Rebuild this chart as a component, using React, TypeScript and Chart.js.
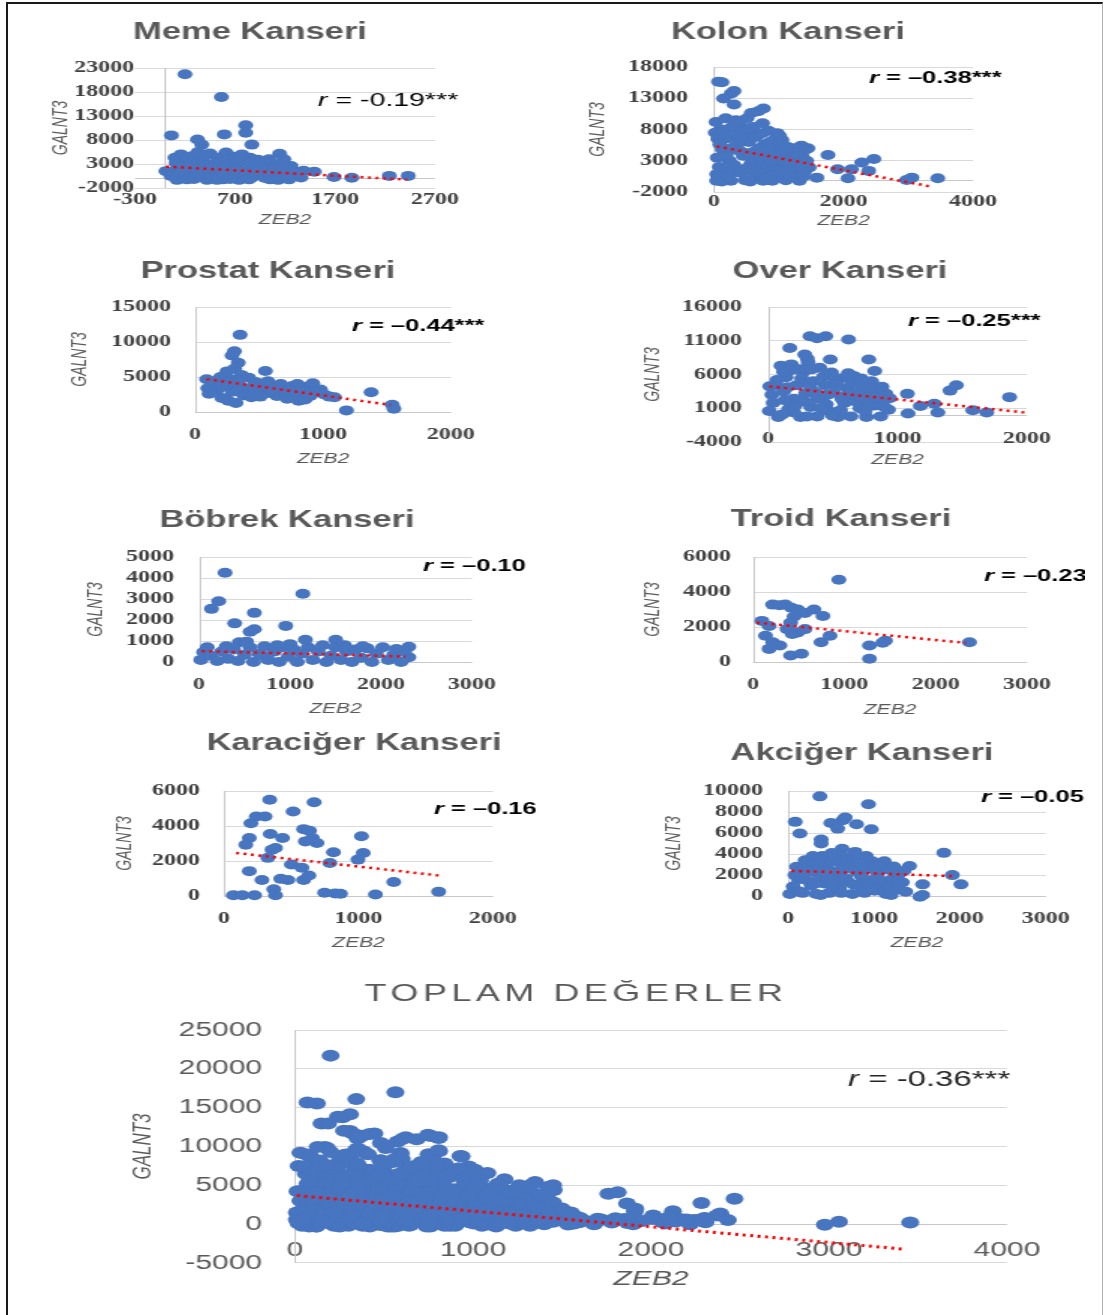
import React, { useEffect, useRef } from 'react';
import { Chart, registerables } from 'chart.js';

Chart.register(...registerables);
Chart.defaults.font.family = "'Liberation Sans', Arial, sans-serif";

type Pt = [number, number];

// ===================== DATA =====================
// Meme Kanseri
const memeXTicks = [-300, 700, 1700, 2700];
const memeYTicks = [-2000, 3000, 8000, 13000, 18000, 23000];
const memeR = '-0.19***';
const memeTrend: Pt[] = [[10, 2450], [2420, -250]];
const memePoints: Pt[] = [
  [200, 21700], [564, 16970], [64, 8960], [593, 9170], [807, 11090], [807, 9520], [868, 7040], [325, 8100],
  [368, 7040], [1146, 5130], [1189, 3990], [1386, 1580], [1493, 1370], [1690, 300], [1868, 150], [2243, 520],
  [2432, 520], [10, 1510],
  [100, 4300], [130, 2200], [150, 600], [160, 5000], [200, 3300], [220, -200], [250, 1500], [270, 4600],
  [300, 2600], [330, 5500], [340, 500], [380, 3800], [400, 1800], [420, -300], [450, 5200], [470, 2900],
  [500, 900], [530, 4300], [560, 2000], [580, -200], [610, 5400], [630, 3400], [660, 1200], [690, 4500],
  [720, 2500], [740, -300], [770, 5000], [790, 3600], [820, 1500], [850, 4300], [870, 200], [900, 2700],
  [930, 3900], [960, 800], [990, 3300], [1020, 2000], [1050, -200], [1080, 3000], [1110, 1200], [1150, 2400],
  [1180, 300], [1220, 1600], [1260, 2600], [1290, 600], [1320, 1300], [1360, 200], [120, -300], [180, 1200],
  [290, -100], [360, 2800], [440, 1000], [520, -300], [600, 1000], [650, -100], [700, 3100], [760, 1200],
  [840, -200], [880, 1400], [1000, 100], [1130, -300], [1240, -200], [60, 500],
  [110, 3200], [230, 4000], [320, 1000], [400, 4800], [480, 2200], [550, 3400], [620, 2600], [700, 1800],
  [780, 4200], [860, 3000], [950, 1800], [1040, 4000], [1100, 2300], [1180, 3500], [260, 3000],
];

// Kolon Kanseri
const kolonXTicks = [0, 2000, 4000];
const kolonYTicks = [-2000, 3000, 8000, 13000, 18000];
const kolonR = '–0.38***';
const kolonTrend: Pt[] = [[40, 5300], [3360, -1150]];
const kolonPoints: Pt[] = [
  [70, 15660], [123, 15550], [267, 13780], [309, 14150], [149, 12970], [309, 12000], [763, 11350], [683, 10920],
  [576, 10650], [976, 7420], [1349, 5420], [1760, 3920], [1472, 1920], [1589, 300], [1909, 1650], [2123, 1650],
  [2069, 200], [2283, 2730], [2469, 3270], [2389, 1380], [3056, 300], [2976, -70], [3456, 200], [43, 860],
  [30, 9200], [60, 6500], [50, 3500], [40, -200], [100, 8000], [130, 4800], [150, 1500], [180, 9800],
  [210, 6600], [240, 3000], [260, -200], [300, 8600], [330, 5300], [360, 1200], [390, 9300], [420, 7000],
  [450, 3800], [480, -100], [510, 9800], [540, 6000], [570, 2500], [600, 8400], [630, 4500], [660, 500],
  [690, 7200], [720, 3200], [750, 9000], [780, 5600], [810, 1500], [840, 7800], [870, 4000], [900, -200],
  [930, 6400], [960, 2600], [990, 5000], [1020, 800], [1050, 6300], [1080, 3400], [1110, -100], [1140, 5200],
  [1170, 1800], [1200, 4300], [1230, 600], [1260, 5000], [1290, 2600], [1320, -200], [1360, 3800], [1400, 1300],
  [1420, 4800], [120, -300], [200, 4300], [280, 1500], [380, 5800], [500, 1800], [560, -300], [620, 7000],
  [700, 5000], [760, -200], [900, 2000], [1000, 3300], [1150, 3500], [1300, 1000], [480, 8200], [250, 8200],
  [80, 2000],
  [20, 7500], [90, 5600], [70, 300], [160, 7000], [190, 3600], [220, 500], [270, 5000], [310, 2300],
  [340, 9500], [370, 7200], [410, 4500], [440, 1000], [470, 6600], [520, 4200], [550, 8000], [590, 3200],
  [620, 1200], [650, 6800], [680, 3900], [710, 1800], [740, 7400], [770, 2600], [800, 4800], [830, 300],
  [860, 6000], [890, 3000], [940, 4400], [970, 1000], [1010, 7000], [1040, 1800], [1070, 4600], [1130, 2600],
  [1190, 600], [1240, 3500], [1280, 4200], [1330, 2000], [1380, 500], [1430, 3000], [1450, 5000],
];

// Prostat Kanseri
const prostatXTicks = [0, 1000, 2000];
const prostatYTicks = [0, 5000, 10000, 15000];
const prostatR = '–0.44***';
const prostatTrend: Pt[] = [[90, 4700], [1530, 1000]];
const prostatPoints: Pt[] = [
  [352, 11020], [308, 8670], [289, 8060], [338, 7030], [550, 5860], [91, 4690], [1183, 230], [1376, 2810],
  [1541, 1030], [1554, 470],
  [100, 3400], [110, 2600], [150, 4400], [170, 3100], [200, 5000], [210, 2000], [230, 3800], [250, 5800],
  [260, 1600], [280, 4600], [290, 2900], [310, 6200], [320, 1300], [340, 4000], [360, 5300], [380, 2400],
  [400, 3300], [420, 4900], [440, 2100], [470, 4300], [490, 3000], [510, 2200], [540, 3800], [570, 4400],
  [590, 2700], [620, 3400], [640, 2300], [670, 4000], [700, 2900], [720, 1900], [760, 3700], [780, 2400],
  [800, 4000], [810, 1600], [840, 3100], [860, 1800], [880, 3600], [920, 4100], [940, 2800], [980, 3200],
  [1010, 2500], [1050, 2200], [1090, 2100], [200, 3500], [320, 3400], [450, 3600], [600, 3000], [750, 3100],
  [900, 2300], [260, 4200],
];

// Over Kanseri
const overXTicks = [0, 1000, 2000];
const overYTicks = [-4000, 1000, 6000, 11000, 16000];
const overR = '–0.25***';
const overTrend: Pt[] = [[10, 4250], [2000, 350]];
const overPoints: Pt[] = [
  [324, 11680], [378, 11390], [446, 11680], [622, 11190], [168, 9930], [284, 8960], [303, 8380], [481, 8230],
  [778, 8230], [824, 6530], [14, 4250], [1076, 3140], [1081, 220], [1176, 1340], [1284, 1680], [1311, 370],
  [1405, 3620], [1454, 4400], [1581, 710], [1689, 370], [1865, 2650],
  [10, 600], [40, 1800], [80, -300], [100, 7300], [120, 3500], [140, 5600], [160, 900], [180, 7500],
  [200, 2400], [220, 4400], [250, -300], [270, 6300], [290, 3200], [310, 7800], [330, 1200], [350, 5000],
  [380, -200], [400, 7000], [420, 2600], [440, 4400], [470, 600], [490, 6300], [510, 3300], [540, -300],
  [560, 5400], [590, 1800], [610, 4000], [640, -200], [660, 5800], [680, 2800], [710, 1000], [730, 4400],
  [760, -300], [780, 3000], [800, 5000], [820, 1400], [850, 3600], [870, -200], [890, 2200], [910, 3200],
  [930, 800], [60, 4400], [130, 2200], [240, 6800], [330, 3900], [450, 1600], [520, 5000], [600, 2800],
  [700, 3500], [760, 2000], [200, 400], [560, 700], [380, 2400], [650, 4800],
  [30, 3000], [70, 5200], [110, 100], [150, 4100], [170, 6600], [210, 1400], [260, 5400], [280, 2000],
  [320, 4600], [340, 6800], [370, 3300], [410, 1000], [430, 5700], [460, 3000], [500, -100], [530, 4400],
  [570, 2400], [620, 6200], [640, 3400], [690, 1900], [720, 5400], [750, 600], [790, 4000], [840, 2600],
  [880, 4200], [900, 1200], [940, 2500], [300, -200], [120, 6400],
];

// Böbrek Kanseri
const bobrekXTicks = [0, 1000, 2000, 3000];
const bobrekYTicks = [0, 1000, 2000, 3000, 4000, 5000];
const bobrekR = '–0.10';
const bobrekTrend: Pt[] = [[30, 520], [2270, 260]];
const bobrekPoints: Pt[] = [
  [286, 4250], [1141, 3250], [216, 2890], [137, 2530], [608, 2340], [392, 1840], [953, 1720], [608, 1560],
  [561, 1440], [443, 940], [522, 970], [1169, 1060], [1502, 1060], [2306, 730], [2169, 620], [2306, 230],
  [90, 700], [51, 470],
  [20, 100], [130, 300], [200, 50], [250, 500], [320, 150], [380, 600], [430, 50], [500, 350],
  [560, 700], [600, 0], [660, 400], [720, 750], [760, 100], [830, 500], [880, 0], [930, 700],
  [980, 250], [1040, 600], [1080, 0], [1130, 400], [1200, 700], [1250, 100], [1310, 500], [1360, 800],
  [1400, 0], [1450, 300], [1500, 700], [1560, 100], [1620, 500], [1680, 0], [1720, 600], [1780, 200],
  [1850, 650], [1900, 0], [1950, 400], [2020, 700], [2080, 100], [2140, 350], [2220, 0], [2260, 500],
  [1000, 850], [700, 300], [1600, 800], [1800, 750], [300, 750], [860, 800],
];

// Troid Kanseri
const troidXTicks = [0, 1000, 2000, 3000];
const troidYTicks = [0, 2000, 4000, 6000];
const troidR = '–0.23';
const troidTrend: Pt[] = [[40, 2250], [2330, 1090]];
const troidPoints: Pt[] = [
  [940, 4700], [215, 3280], [290, 3250], [353, 3280], [420, 3100], [490, 3000], [569, 2800], [667, 3000],
  [765, 2630], [450, 2600], [98, 2350], [176, 2060], [137, 1500], [216, 1130], [294, 940], [176, 750],
  [373, 1880], [412, 2250], [490, 1690], [569, 1880], [430, 1600], [843, 1500], [745, 1130], [412, 375],
  [530, 470], [1275, 940], [1275, 190], [1450, 1220], [1420, 1100], [2370, 1130],
];

// Karaciğer Kanseri
const karacigerXTicks = [0, 1000, 2000];
const karacigerYTicks = [0, 2000, 4000, 6000];
const karacigerR = '–0.16';
const karacigerTrend: Pt[] = [[90, 2460], [1600, 1170]];
const karacigerPoints: Pt[] = [
  [340, 5500], [670, 5360], [514, 4830], [240, 4540], [305, 4540], [200, 4160], [592, 3820], [636, 3730],
  [1022, 3410], [344, 3540], [435, 3310], [188, 3310], [162, 2930], [657, 3310], [691, 3030], [605, 3120],
  [383, 2740], [357, 2650], [814, 2500], [1035, 2460], [996, 2080], [326, 2180], [501, 1800], [579, 1610],
  [787, 1890], [188, 1420], [282, 910], [422, 980], [475, 910], [592, 910], [631, 1170], [1262, 800],
  [1596, 250], [70, 40], [136, 40], [227, 40], [370, 380], [383, 40], [748, 190], [827, 150],
  [866, 130], [1126, 90],
];

// Akciğer Kanseri
const akcigerXTicks = [0, 1000, 2000, 3000];
const akcigerYTicks = [0, 2000, 4000, 6000, 8000, 10000];
const akcigerR = '–0.05';
const akcigerTrend: Pt[] = [[40, 2400], [1930, 1900]];
const akcigerPoints: Pt[] = [
  [371, 9490], [936, 8730], [84, 7060], [139, 5950], [498, 6960], [637, 7220], [665, 7470], [578, 6420],
  [797, 6840], [968, 6360], [386, 5380], [386, 5000], [1813, 4110], [1414, 2850], [1912, 1990], [2012, 1110],
  [1566, 1110], [1566, 95], [1534, -60], [20, 190], [100, 2780],
  [60, 900], [120, 1600], [170, 300], [200, 3400], [230, 2300], [270, 1000], [300, 3000], [330, 200],
  [360, 2000], [400, 3800], [420, 1200], [450, 2800], [480, 300], [510, 4100], [540, 1900], [570, 3300],
  [600, 700], [630, 4500], [660, 2600], [690, 1400], [720, 3700], [750, 200], [780, 4200], [800, 2300],
  [830, 1100], [860, 3400], [890, 300], [920, 2600], [950, 1500], [980, 3300], [1010, 500], [1040, 2200],
  [1080, 3000], [1110, 1200], [1140, 200], [1170, 2500], [1210, 1600], [1250, 600], [1290, 2100], [1330, 1300],
  [1370, 400], [250, 2600], [380, 100], [560, 1200], [700, 2900], [870, 500], [1000, 1000], [1200, 100],
  [460, 3500], [650, 3700],
  [80, 2000], [140, 400], [180, 2600], [220, 1500], [290, 3800], [320, 1200], [350, 3100], [390, 2500],
  [440, 1800], [500, 1200], [530, 3700], [590, 2400], [620, 300], [670, 1700], [730, 2700], [760, 1100],
  [820, 3200], [850, 1900], [910, 3800], [940, 700], [1020, 2800], [1060, 1600], [1120, 3300], [1160, 800],
  [1230, 2800], [1280, 1100], [1350, 2400],
];

// TOPLAM DEĞERLER: pooled values of all eight cancer types, plus marks
const toplamXTicks = [0, 1000, 2000, 3000, 4000];
const toplamYTicks = [-5000, 0, 5000, 10000, 15000, 20000, 25000];
const toplamR = '-0.36***';
const toplamTrend: Pt[] = [[10, 3680], [3415, -3200]];
const toplamOnlyPoints: Pt[] = [
  [344, 16100], [241, 13840], [186, 12960], [275, 12040], [351, 11410], [420, 11620], [482, 10450], [606, 11000],
  [747, 11500], [809, 11200], [809, 9400], [929, 8780], [592, 9030], [351, 9740], [127, 9950], [86, 8780],
  [489, 8150], [781, 8150], [1081, 6600], [1177, 5770], [1332, 5140], [1435, 4300],
  [60, 7500], [100, 6600], [140, 8200], [170, 5400], [200, 9300], [230, 7000], [260, 4800], [290, 8600],
  [320, 6200], [350, 7800], [380, 5300], [410, 9000], [440, 6800], [470, 4500], [500, 7600], [530, 5800],
  [560, 8400], [590, 6500], [620, 4800], [650, 7300], [680, 5600], [710, 8000], [740, 6200], [770, 4700],
  [800, 7000], [830, 5300], [860, 6400], [890, 4500], [920, 7200], [950, 5600], [980, 6300], [1010, 4700],
  [1040, 5600], [1100, 4400], [1150, 5000], [1200, 3700], [1250, 4400], [1300, 3300], [1380, 3800], [1450, 2800],
  [1500, 2000], [1550, 1500], [1600, 800], [1700, 700], [1800, 500], [1900, 900], [2000, 700], [2100, 900],
  [2200, 600], [2300, 800], [80, 5500], [180, 7600], [270, 6000], [360, 4400], [460, 6100], [570, 5000],
  [660, 4200], [760, 5500], [870, 3800], [970, 3600], [1070, 3400], [1160, 2900], [1260, 2600], [1350, 2200],
  [1420, 1400], [120, 4000], [300, 3800], [500, 3300], [700, 3200], [900, 2900],
];
const toplamPoints: Pt[] = [
  ...memePoints, ...kolonPoints, ...prostatPoints, ...overPoints,
  ...bobrekPoints, ...troidPoints, ...karacigerPoints, ...akcigerPoints, ...toplamOnlyPoints,
];

// ===================== LAYOUT / STYLE =====================
const STRETCH = 1.5;
const BLUE = '#4775C0';

interface PanelStyle {
  titleSize: number; titleWeight: string; titleSpacing: number;
  tickFamily: string; tickSize: number; tickWeight: string; tickColor: string;
  yTitleSize: number; xTitleSize: number;
  rColor: string;
  pointRadius: number; trendWidth: number;
}
const SMALL: PanelStyle = {
  titleSize: 23, titleWeight: 'bold', titleSpacing: 0,
  tickFamily: "'Liberation Serif', serif", tickSize: 16, tickWeight: 'bold', tickColor: '#404040',
  yTitleSize: 14, xTitleSize: 14,
  rColor: '#000000',
  pointRadius: 5, trendWidth: 2.5,
};
const BIG: PanelStyle = {
  titleSize: 24, titleWeight: 'normal', titleSpacing: 3,
  tickFamily: "'Liberation Sans', Arial, sans-serif", tickSize: 20, tickWeight: 'normal', tickColor: '#595959',
  yTitleSize: 17, xTitleSize: 20,
  rColor: '#262626',
  pointRadius: 6, trendWidth: 3,
};

interface PanelLayout {
  plot: [number, number, number, number];
  titleAt: [number, number];
  rAt: [number, number];
  yTitleX: number; xTitleY: number;
  yLabelRight: number; xLabelY: number;
  right: number;
}

interface Panel {
  title: string; r: string; rBold: boolean; rSize: number;
  points: Pt[]; trend: Pt[]; xTicks: number[]; yTicks: number[];
  layout: PanelLayout; style: PanelStyle;
}

const panels: Panel[] = [
  {
    title: 'Meme Kanseri', r: memeR, rBold: false, rSize: 19, points: memePoints, trend: memeTrend,
    xTicks: memeXTicks, yTicks: memeYTicks, style: SMALL,
    layout: { plot: [135, 68, 435, 188], titleAt: [250, 33], rAt: [318, 101], yTitleX: 62, xTitleY: 221, yLabelRight: 134, xLabelY: 200, right: 472 },
  },
  {
    title: 'Kolon Kanseri', r: kolonR, rBold: true, rSize: 17, points: kolonPoints, trend: kolonTrend,
    xTicks: kolonXTicks, yTicks: kolonYTicks, style: SMALL,
    layout: { plot: [714, 67, 973, 192], titleAt: [788, 33], rAt: [869, 78], yTitleX: 599, xTitleY: 222, yLabelRight: 688, xLabelY: 202, right: 1012 },
  },
  {
    title: 'Prostat Kanseri', r: prostatR, rBold: true, rSize: 17, points: prostatPoints, trend: prostatTrend,
    xTicks: prostatXTicks, yTicks: prostatYTicks, style: SMALL,
    layout: { plot: [195, 307, 455, 412], titleAt: [268, 272], rAt: [352, 326], yTitleX: 81, xTitleY: 460, yLabelRight: 171, xLabelY: 435, right: 495 },
  },
  {
    title: 'Over Kanseri', r: overR, rBold: true, rSize: 17, points: overPoints, trend: overTrend,
    xTicks: overXTicks, yTicks: overYTicks, style: SMALL,
    layout: { plot: [768, 307, 1027, 443], titleAt: [840, 272], rAt: [908, 321], yTitleX: 654, xTitleY: 461, yLabelRight: 742, xLabelY: 440, right: 1058 },
  },
  {
    title: 'Böbrek Kanseri', r: bobrekR, rBold: true, rSize: 17, points: bobrekPoints, trend: bobrekTrend,
    xTicks: bobrekXTicks, yTicks: bobrekYTicks, style: SMALL,
    layout: { plot: [199, 557, 472, 662], titleAt: [287, 521], rAt: [423, 566], yTitleX: 97, xTitleY: 710, yLabelRight: 174, xLabelY: 685, right: 527 },
  },
  {
    title: 'Troid Kanseri', r: troidR, rBold: true, rSize: 17, points: troidPoints, trend: troidTrend,
    xTicks: troidXTicks, yTicks: troidYTicks, style: SMALL,
    layout: { plot: [753, 557, 1027, 662], titleAt: [841, 520], rAt: [984, 576], yTitleX: 654, xTitleY: 711, yLabelRight: 731, xLabelY: 685, right: 1085 },
  },
  {
    title: 'Karaciğer Kanseri', r: karacigerR, rBold: true, rSize: 17, points: karacigerPoints, trend: karacigerTrend,
    xTicks: karacigerXTicks, yTicks: karacigerYTicks, style: SMALL,
    layout: { plot: [224, 791, 498, 896], titleAt: [354, 744], rAt: [434, 809], yTitleX: 126, xTitleY: 944, yLabelRight: 200, xLabelY: 919, right: 537 },
  },
  {
    title: 'Akciğer Kanseri', r: akcigerR, rBold: true, rSize: 17, points: akcigerPoints, trend: akcigerTrend,
    xTicks: akcigerXTicks, yTicks: akcigerYTicks, style: SMALL,
    layout: { plot: [788, 791, 1049, 896], titleAt: [862, 754], rAt: [981, 797], yTitleX: 675, xTitleY: 944, yLabelRight: 763, xLabelY: 919, right: 1090 },
  },
  {
    title: 'TOPLAM DEĞERLER', r: toplamR, rBold: false, rSize: 22, points: toplamPoints, trend: toplamTrend,
    xTicks: toplamXTicks, yTicks: toplamYTicks, style: BIG,
    layout: { plot: [295, 1030, 1007, 1269], titleAt: [576, 994], rAt: [848, 1080], yTitleX: 143, xTitleY: 1285, yLabelRight: 262, xLabelY: 1256, right: 1050 },
  },
];

// ===================== COMPONENTS =====================
function ScatterPanel({ panel }: { panel: Panel }) {
  const ref = useRef<HTMLCanvasElement>(null);
  const lay = panel.layout;
  const st = panel.style;
  const [PL, PT, PR, PB] = lay.plot;
  const yTitleLh = st.yTitleSize * 1.2;
  const xTitleLh = st.xTitleSize * 1.2;
  const L = Math.round(lay.yTitleX - (yTitleLh / 2) * STRETCH);
  const T = lay.titleAt[1] - 24;
  const B = Math.round(lay.xTitleY + xTitleLh / 2);
  const R = lay.right;
  const Wp = R - L;
  const Wi = Math.round(Wp / STRETCH);
  const s = Wp / Wi;
  const H = B - T;

  useEffect(() => {
    const canvas = ref.current;
    if (!canvas) return;
    const xi = (X: number) => (X - L) / s;
    const tickLh = st.tickSize * 1.2;
    const fam = "'Liberation Sans', Arial, sans-serif";

    const decor = {
      id: 'decor',
      beforeDatasetsDraw(chart: any) {
        const { ctx, chartArea: a, scales } = chart;
        ctx.save();
        ctx.strokeStyle = '#c8c8c8';
        ctx.lineWidth = 1;
        const px = Math.round(scales.x.getPixelForValue(0)) + 0.5;
        ctx.beginPath(); ctx.moveTo(px, a.top); ctx.lineTo(px, a.bottom); ctx.stroke();
        const py = Math.round(scales.y.getPixelForValue(0)) + 0.5;
        ctx.beginPath(); ctx.moveTo(a.left, py); ctx.lineTo(a.right, py); ctx.stroke();
        ctx.restore();
      },
      afterDraw(chart: any) {
        const ctx = chart.ctx as CanvasRenderingContext2D;
        ctx.save();
        (ctx as any).letterSpacing = `${st.titleSpacing}px`;
        ctx.font = `${st.titleWeight} ${st.titleSize}px ${fam}`;
        ctx.fillStyle = '#595959';
        ctx.textAlign = 'center';
        ctx.textBaseline = 'middle';
        ctx.fillText(panel.title, xi(lay.titleAt[0]), lay.titleAt[1] - T);
        (ctx as any).letterSpacing = '0px';
        const w = panel.rBold ? 'bold' : 'normal';
        ctx.textAlign = 'left';
        ctx.fillStyle = st.rColor;
        const x0 = xi(lay.rAt[0]);
        const y0 = lay.rAt[1] - T;
        ctx.font = `italic ${w} ${panel.rSize}px ${fam}`;
        ctx.fillText('r', x0, y0);
        const rw = ctx.measureText('r').width;
        ctx.font = `${w} ${panel.rSize}px ${fam}`;
        ctx.fillText(' = ' + panel.r, x0 + rw, y0);
        ctx.restore();
      },
    };

    const tickFont = { family: st.tickFamily, size: st.tickSize, weight: st.tickWeight as any };
    const noLabelClip = (sc: any) => { sc._computeLabelArea = () => undefined; };

    const chart = new Chart(canvas, {
      type: 'scatter',
      data: {
        datasets: [
          {
            data: panel.trend.map(([x, y]) => ({ x, y })),
            showLine: true,
            borderColor: '#ff0000',
            backgroundColor: '#ff0000',
            borderWidth: st.trendWidth,
            borderDash: [2, 3],
            pointRadius: 0,
            pointHoverRadius: 0,
            clip: false,
          } as any,
          {
            data: panel.points.map(([x, y]) => ({ x, y })),
            backgroundColor: BLUE,
            borderColor: BLUE,
            borderWidth: 0,
            pointRadius: st.pointRadius,
            pointHoverRadius: st.pointRadius,
            clip: false,
          } as any,
        ],
      },
      options: {
        responsive: false,
        animation: false,
        events: [],
        layout: { padding: { left: 0, top: PT - T, right: (R - PR) / s, bottom: 0 } },
        plugins: { legend: { display: false }, tooltip: { enabled: false }, title: { display: false } },
        scales: {
          x: {
            type: 'linear',
            min: panel.xTicks[0],
            max: panel.xTicks[panel.xTicks.length - 1],
            afterBuildTicks: (sc: any) => { sc.ticks = panel.xTicks.map((v) => ({ value: v })); },
            afterFit: (sc: any) => { sc.height = B - PB; noLabelClip(sc); },
            grid: { display: false, drawTicks: false },
            border: { display: false },
            ticks: {
              autoSkip: false, maxRotation: 0, minRotation: 0,
              padding: lay.xLabelY - PB - tickLh / 2,
              font: tickFont, color: st.tickColor,
              callback: (v: any) => String(v),
            },
            title: {
              display: true, text: 'ZEB2', color: '#595959', padding: 0,
              font: { family: fam, size: st.xTitleSize, style: 'italic' },
            },
          },
          y: {
            type: 'linear',
            min: panel.yTicks[0],
            max: panel.yTicks[panel.yTicks.length - 1],
            afterBuildTicks: (sc: any) => { sc.ticks = panel.yTicks.map((v) => ({ value: v })); },
            afterFit: (sc: any) => { sc.width = (PL - L) / s; noLabelClip(sc); },
            grid: { display: true, drawTicks: false, color: '#d9d9d9', lineWidth: 1 },
            border: { display: false },
            ticks: {
              autoSkip: false,
              padding: (PL - lay.yLabelRight) / s,
              font: tickFont, color: st.tickColor,
              callback: (v: any) => String(v),
            },
            title: {
              display: true, text: 'GALNT3', color: '#595959', padding: 0,
              font: { family: fam, size: st.yTitleSize, style: 'italic' },
            },
          },
        },
      } as any,
      plugins: [decor],
    });
    return () => chart.destroy();
  }, [panel]);

  return (
    <canvas
      ref={ref}
      width={Wi}
      height={H}
      style={{ position: 'absolute', left: L, top: T, width: Wp, height: H, display: 'block' }}
    />
  );
}

export default function App() {
  return (
    <div style={{ position: 'absolute', left: 0, top: 0, width: 1105, height: 1315, background: '#ffffff', overflow: 'hidden' }}>
      <div
        style={{
          position: 'absolute', left: 6, top: 2, width: 1097, height: 1313, boxSizing: 'border-box',
          borderLeft: '2px solid #1a1a1a', borderTop: '2px solid #1a1a1a', borderRight: '1px solid #b0b0b0',
        }}
      />
      {panels.map((p, i) => (
        <ScatterPanel key={i} panel={p} />
      ))}
    </div>
  );
}
